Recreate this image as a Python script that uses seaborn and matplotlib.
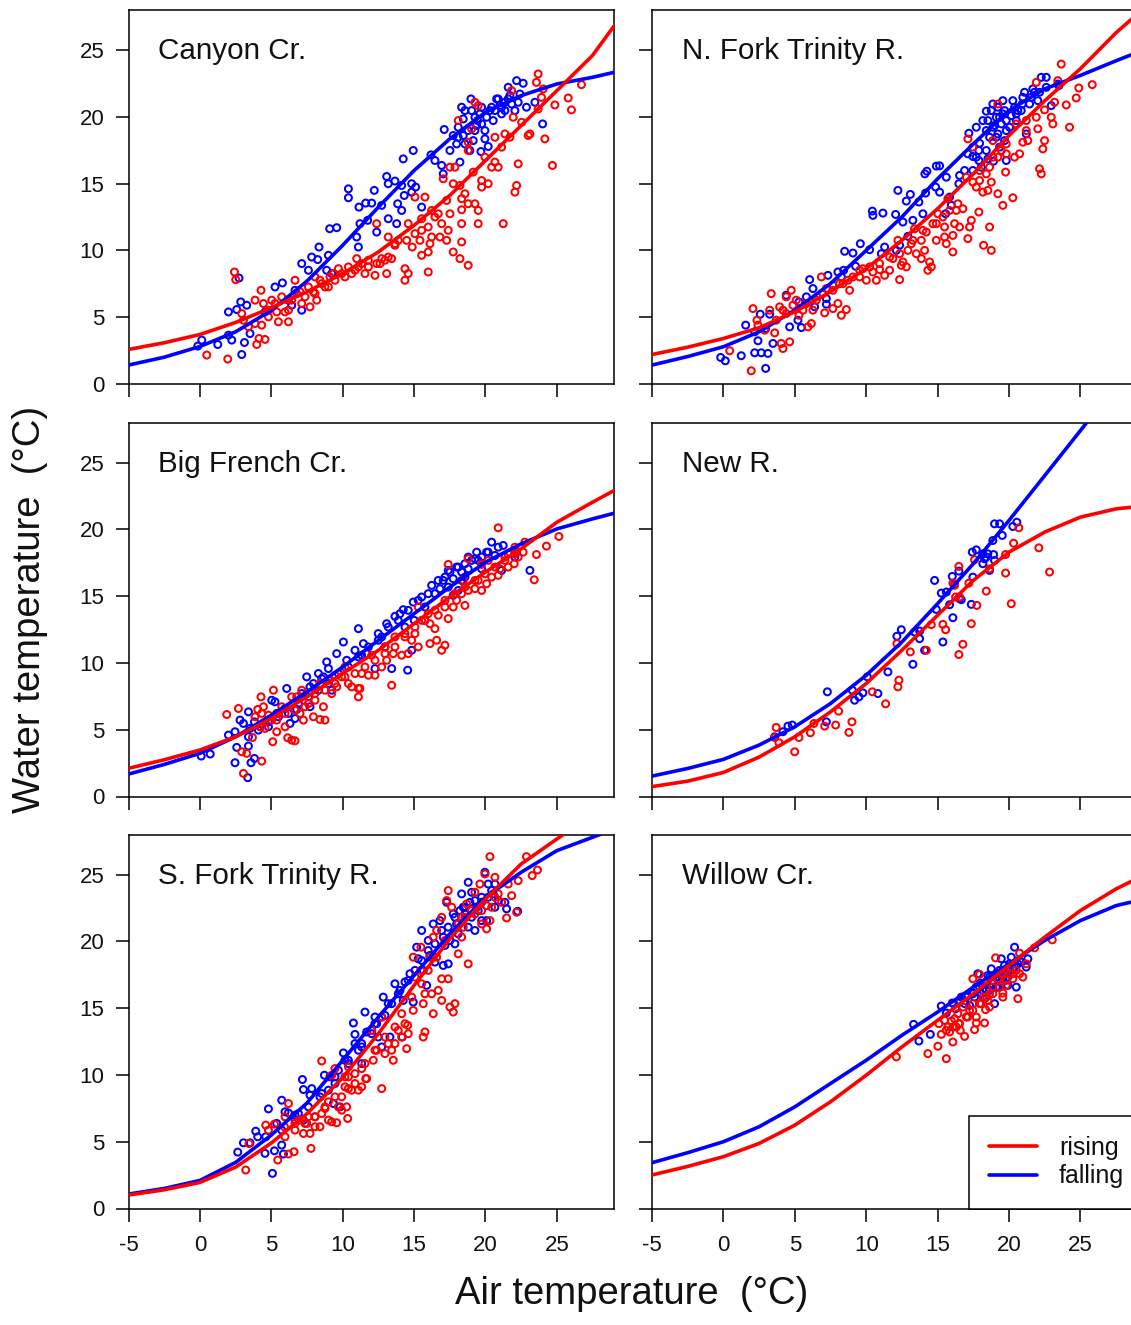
import numpy as np
import pandas as pd
import matplotlib
matplotlib.use("Agg")
import matplotlib.pyplot as plt
import seaborn as sns
from matplotlib.lines import Line2D

# ---------------- data ----------------
RED = "#FF0000"
BLUE = "#0000FF"

site_names = ["Canyon Cr.", "N. Fork Trinity R.", "Big French Cr.",
              "New R.", "S. Fork Trinity R.", "Willow Cr."]

x_ticks = [-5, 0, 5, 10, 15, 20, 25]
y_ticks = [0, 5, 10, 15, 20, 25]

# fitted curves, read at these air temperatures
curve_x = [-5, -2.5, 0, 2.5, 5, 7.5, 10, 12.5, 15, 17.5, 20, 22.5, 25, 27.5, 29]

canyon_rise_curve = [2.58, 3.08, 3.7, 4.6, 5.7, 6.9, 8.26, 9.88, 11.87, 14.11, 16.73, 19.35, 21.96, 24.6, 26.8]
canyon_fall_curve = [1.41, 2.0, 2.8, 3.9, 5.5, 7.7, 10.38, 13.24, 15.98, 18.35, 20.34, 21.59, 22.46, 22.96, 23.33]
nfork_rise_curve = [2.2, 2.75, 3.4, 4.2, 5.4, 6.9, 8.63, 10.75, 13.12, 15.73, 18.6, 21.2, 23.6, 26.3, 27.7]
nfork_fall_curve = [1.41, 2.05, 2.78, 3.9, 5.52, 7.51, 10.0, 12.5, 15.36, 17.97, 20.47, 22.09, 23.1, 24.2, 24.83]
bigfrench_rise_curve = [2.11, 2.75, 3.48, 4.47, 5.84, 7.46, 9.21, 10.95, 12.94, 14.94, 16.81, 18.55, 20.54, 22.04, 22.91]
bigfrench_fall_curve = [1.68, 2.4, 3.23, 4.47, 6.09, 7.84, 9.7, 11.7, 13.69, 15.68, 17.55, 18.92, 20.04, 20.79, 21.21]
newr_rise_curve = [0.74, 1.15, 1.8, 2.95, 4.47, 6.34, 8.46, 10.95, 13.57, 16.18, 18.3, 19.8, 20.92, 21.54, 21.71]
newr_fall_curve = [1.53, 2.1, 2.78, 3.85, 5.22, 6.96, 9.08, 11.57, 14.44, 17.43, 20.67, 24.03, 27.4, 30.8, 32.8]
sfork_rise_curve = [1.01, 1.4, 1.95, 3.1, 4.9, 7.1, 9.8, 13.09, 16.71, 20.19, 23.18, 25.8, 27.67, 29.5, 30.5]
sfork_fall_curve = [1.08, 1.5, 2.1, 3.45, 5.5, 7.9, 11.1, 14.34, 17.45, 20.57, 23.31, 25.18, 26.8, 27.8, 28.4]
willow_rise_curve = [2.51, 3.15, 3.88, 4.87, 6.24, 7.99, 9.98, 12.1, 14.09, 16.08, 18.2, 20.32, 22.31, 23.93, 24.73]
willow_fall_curve = [3.43, 4.18, 5.0, 6.12, 7.61, 9.36, 11.1, 12.97, 14.71, 16.58, 18.32, 20.07, 21.56, 22.68, 23.06]

# observations (air, water)
canyon_fall_pts = [(-0.15,2.83),(0.13,3.28),(1.25,2.95),(2.0,3.65),(2.23,3.28),(2.93,2.2),(3.12,3.1),(2.0,5.39),(2.58,5.57),(2.74,7.93),(2.86,6.14),(3.28,5.89),(3.51,3.77),(4.56,5.39),(5.26,7.26),(5.78,7.56),(6.2,6.27),(6.43,5.89),(7.13,5.52),(6.66,7.01),(7.13,9.01),(7.6,8.51),(7.83,9.5),(8.25,9.31),(8.34,10.25),(9.0,9.63),(9.09,11.62),(9.58,11.7),(9.23,8.26),(8.88,8.51),(10.4,14.61),(10.4,13.94),(11.14,13.24),(11.61,13.54),(12.03,13.54),(12.21,14.49),(11.21,12.0),(11.75,12.25),(10.98,11.0),(11.1,10.25),(12.38,11.37),(13.08,15.53),(13.19,14.99),(13.66,15.19),(14.13,14.86),(14.31,14.11),(14.83,14.99),(15.11,14.74),(14.94,17.48),(14.24,16.85),(14.83,14.36),(13.85,13.49),(12.73,13.37),(13.19,12.37),(13.78,12.0),(14.13,12.99),(15.53,13.24),(16.18,17.15),(16.46,16.73),(16.93,16.36),(17.04,15.73),(17.11,19.05),(17.74,18.6),(18.09,19.22),(18.33,20.72),(18.98,21.34),(18.44,19.84),(18.91,17.48),(19.68,17.4),(20.19,17.78),(19.03,20.47),(19.45,19.72),(19.73,20.72),(20.31,20.47),(20.78,21.34),(21.13,20.72),(21.71,21.59),(22.18,22.71),(22.64,22.51),(21.59,22.21),(22.87,20.72),(23.46,21.09),(24.0,19.47),(21.36,21.09),(20.54,19.72),(19.26,18.97),(19.96,18.35),(17.51,17.48),(17.98,17.97),(18.21,16.61),(21.13,20.22),(22.06,20.47),(18.56,17.97),
    (18.56,20.47),(19.26,19.97),(19.61,20.22),(20.08,19.97),(20.43,20.72),(20.66,20.47),(21.01,20.84),(21.36,20.47),(21.83,20.96),(22.29,21.09),(20.89,21.34),(21.59,21.34),(22.41,21.71),(19.73,19.47),(19.38,19.35),(18.79,18.97),(18.44,18.6),(18.09,18.47),(19.14,18.22),(19.96,18.97)]
canyon_rise_pts = [(0.48,2.16),(1.95,1.86),(2.42,8.38),(2.51,7.81),(2.93,5.27),(3.05,4.77),(3.4,4.27),(3.98,2.95),(4.14,3.4),(4.56,3.33),(4.28,7.01),(3.86,6.27),(4.45,6.02),(4.8,5.52),(4.33,4.4),(5.03,6.27),(5.38,5.39),(5.5,4.65),(5.96,5.39),(6.2,4.65),(6.2,6.32),(6.66,7.76),(6.78,6.76),(7.36,6.52),(7.71,5.77),(7.95,6.89),(8.18,6.27),(8.41,7.76),(8.76,7.26),(9.11,8.01),(9.46,7.76),(9.7,8.63),(10.16,8.01),(10.4,8.76),(10.63,8.26),(10.98,9.38),(11.1,8.76),(11.56,8.26),(11.8,8.76),(12.26,8.13),(12.38,9.01),(12.73,9.38),(13.08,8.26),(13.43,9.38),(13.66,10.38),(13.89,10.75),(14.36,8.63),(14.36,7.76),(14.59,8.26),(14.87,10.25),(14.48,10.75),(15.06,11.25),(15.41,10.75),(15.53,9.63),(15.99,8.38),(16.11,10.5),(16.23,11.0),(16.46,12.5),(16.81,11.0),(17.28,10.75),(17.74,9.88),(18.21,9.38),(18.33,10.63),(18.79,8.88),(12.38,12.0),(14.59,12.0),(15.06,13.99),(15.76,13.99),(16.23,12.99),(16.69,12.74),(17.51,12.74),(17.74,14.99),(18.21,14.86),(18.33,13.04),(18.56,14.24),(18.79,13.49),(19.26,13.49),(19.49,12.0),(19.14,15.86),(19.73,14.74),(20.19,14.99),(20.43,16.23),(20.66,16.61),(21.13,17.73),(21.36,18.72),(21.71,18.47),(22.06,14.36),(22.18,14.86),(21.24,12.0),(22.29,16.48),(22.99,18.6),(23.11,18.72),(24.16,18.35),(24.69,16.36),(23.69,20.59),(23.92,21.46),(24.04,22.09),(24.86,20.89),(25.79,21.41),(26.02,20.52),(26.72,22.41),(23.69,23.21),(21.83,21.96),(21.94,19.97),(22.53,19.59),(20.66,18.47),(19.49,20.84),(19.26,21.09),(17.51,16.23),(17.04,15.36),(17.86,16.23),(18.79,17.48),(19.03,19.1),(18.09,19.72),(19.96,16.98),(20.89,16.23),(19.73,15.23),(18.79,18.1),(13.19,11.0),(13.66,10.5),(12.96,9.26),(15.99,9.88),(15.53,12.37),(17.28,13.74),(18.33,13.87),(23.57,22.58),
    (5.26,6.02),(5.73,6.52),(6.43,6.27),(7.01,6.89),(7.6,7.26),(8.06,6.76),(8.53,7.51),(9.0,7.26),(9.35,8.26),(9.93,8.26),(10.86,8.51),(11.33,9.01),(11.8,9.26),(12.61,9.01),(13.19,9.5),(6.2,5.52),(4.8,5.02),(3.86,4.52),(7.13,6.02),(8.06,8.01),(15.53,11.5),(15.99,11.75),(16.93,12.0),(17.39,11.5),(18.33,12.0),(19.49,12.99)]

nfork_fall_pts = [(-0.19,1.98),(0.13,1.73),(1.25,2.11),(2.19,2.33),(2.65,2.33),(3.12,2.28),(2.96,1.16),(2.42,3.23),(1.56,4.4),(2.19,3.9),(2.58,5.22),(3.24,5.22),(2.96,4.15),(3.47,3.03),(4.4,6.64),(4.64,4.27),(5.29,6.14),(5.46,4.22),(5.22,4.77),(5.81,6.52),(6.04,7.81),(6.27,7.14),(6.39,5.77),(7.21,5.97),(7.32,8.13),(7.67,7.39),(8.02,8.38),(8.26,8.01),(8.42,8.51),(9.26,8.81),(8.49,9.93),(9.07,9.8),(9.59,10.5),(10.24,10.05),(10.43,12.94),(10.47,12.62),(11.17,12.79),(12.06,12.69),(12.22,14.49),(12.81,13.69),(13.09,14.19),(11.29,10.25),(11.06,9.75),(12.11,10.0),(12.34,10.38),(12.57,12.12),(12.92,11.05),(13.27,12.25),(13.69,13.62),(13.97,12.74),(14.16,14.29),(14.11,15.73),(14.25,15.93),(14.86,14.74),(14.91,16.31),(15.14,16.33),(15.14,14.36),(15.61,15.48),(15.56,12.74),(15.84,13.99),(15.96,13.37),(16.49,14.99),(16.54,15.61),(16.89,15.98),(17.12,17.23),(17.19,18.77),(17.47,17.03),(17.71,19.22),(17.89,17.48),(17.94,18.02),(18.17,19.72),(18.41,20.42),(18.52,16.85),(18.87,20.96),(18.92,16.68),(18.87,19.22),(19.11,19.97),(19.22,20.72),(19.46,19.47),(19.57,20.22),(19.69,18.22),(19.81,16.73),(20.04,19.22),(20.27,21.21),(20.39,20.72),(20.62,20.47),(20.93,20.96),(21.09,21.84),(21.56,21.46),(21.79,21.84),(22.26,22.96),(22.61,22.96),(22.61,22.21),(23.42,22.46),(22.96,20.84),(19.69,20.47),(20.51,19.72),(21.21,18.72),(19.34,17.73),(18.64,18.47),(19.11,18.47),(18.41,18.97),(18.06,16.23),(17.89,16.73),(21.44,20.96),(22.02,21.21),(23.49,22.33),(17.47,15.98),(7.21,6.39),
    (18.52,19.72),(18.99,19.35),(19.34,19.97),(19.81,19.72),(20.16,20.09),(20.51,20.22),(20.86,20.47),(19.81,18.97),(19.22,18.72),(18.76,20.47),(19.57,21.21),(20.97,21.46),(21.67,22.09),(22.14,21.84),(18.41,17.48),(17.71,16.98)]
nfork_rise_pts = [(0.44,2.48),(1.95,0.98),(2.07,5.64),(2.35,4.77),(2.42,4.4),(2.89,4.02),(3.24,5.52),(3.59,3.82),(3.35,6.76),(3.94,5.77),(4.05,3.03),(4.17,2.65),(4.64,3.15),(4.4,6.52),(4.75,7.01),(4.4,5.27),(4.87,5.89),(5.29,5.14),(5.57,5.52),(5.92,4.27),(6.16,4.52),(6.27,5.52),(6.86,8.01),(7.09,5.32),(7.21,7.14),(7.67,5.64),(8.02,6.02),(8.26,5.14),(8.61,5.57),(8.14,7.51),(8.72,7.76),(8.84,7.01),(9.54,8.01),(9.77,8.63),(10.01,7.76),(10.47,8.38),(10.71,7.76),(10.94,8.56),(11.29,8.13),(11.64,8.51),(11.87,9.38),(12.34,7.81),(12.46,8.88),(12.81,8.76),(12.57,9.13),(12.92,10.0),(13.16,10.5),(13.51,9.75),(13.86,9.38),(14.09,10.0),(14.32,8.51),(14.56,8.76),(14.44,9.13),(12.22,10.75),(13.39,11.62),(13.86,10.75),(14.21,11.37),(14.91,10.75),(15.02,12.74),(15.49,11.0),(15.61,10.5),(16.07,9.88),(15.49,11.75),(16.07,11.12),(16.19,12.0),(16.54,11.75),(15.84,12.99),(15.72,13.87),(16.31,12.99),(16.77,13.12),(17.12,10.88),(17.24,11.75),(17.36,12.25),(17.89,12.87),(18.22,10.38),(18.76,10.0),(18.64,11.75),(19.22,14.24),(19.57,13.37),(20.27,13.94),(17.01,15.48),(17.47,15.11),(17.71,14.74),(17.94,15.23),(18.17,14.36),(18.52,14.49),(18.76,15.11),(18.41,15.73),(18.87,16.98),(19.22,16.98),(19.46,17.48),(19.76,15.86),(19.81,17.23),(20.39,16.98),(20.74,17.23),(20.97,18.1),(21.21,18.97),(21.32,18.22),(22.02,19.1),(22.14,16.11),(22.26,15.73),(22.37,17.6),(22.49,18.22),(21.91,19.97),(22.49,20.52),(22.96,19.97),(23.07,19.47),(23.19,21.09),(24.01,20.89),(24.24,19.22),(24.71,21.41),(24.89,22.16),(25.83,22.41),(23.66,23.95),(21.91,22.58),(23.42,22.71),(18.87,18.22),(17.47,17.73),(19.81,17.97),(21.21,19.72),(17.12,18.35),(19.22,20.96),(20.51,19.47),(17.94,15.98),(18.64,16.23),(14.91,12.0),(16.42,13.49),
    (3.7,4.77),(4.17,5.52),(5.1,6.27),(5.81,6.02),(6.51,6.27),(6.97,6.76),(7.67,7.01),(8.37,7.51),(9.07,8.01),(9.54,8.51),(10.24,8.76),(10.94,9.01),(11.64,9.5),(12.34,9.75),(13.27,10.75),(13.97,11.5),(14.67,12.0),(15.37,12.5)]

bigfrench_fall_pts = [(0.09,3.03),(0.72,3.18),(2.0,4.6),(2.46,4.85),(2.58,3.68),(2.46,2.53),(3.35,1.41),(3.4,3.78),(3.58,2.53),(3.82,2.85),(2.81,5.72),(3.05,5.47),(3.4,6.34),(3.51,5.1),(3.82,5.59),(4.21,5.22),(5.03,7.21),(5.26,7.09),(5.38,6.22),(6.08,8.09),(6.31,5.47),(6.66,5.84),(6.78,6.52),(7.13,7.71),(7.48,8.96),(7.71,8.21),(7.95,8.46),(8.3,9.21),(8.53,8.83),(8.88,10.08),(9.0,9.58),(9.23,7.96),(9.58,10.7),(10.05,11.57),(10.28,10.2),(10.86,10.95),(11.45,11.45),(11.1,12.57),(12.26,9.58),(12.49,12.2),(12.73,11.95),(13.08,12.94),(13.43,9.58),(13.66,13.49),(14.01,13.69),(14.24,13.99),(14.55,9.46),(14.83,10.95),(14.94,14.56),(15.01,13.19),(15.53,14.94),(15.76,14.19),(16.23,15.81),(16.46,15.19),(16.81,15.56),(17.04,16.18),(17.39,16.93),(17.74,16.31),(17.98,17.18),(18.33,16.18),(18.56,16.43),(18.79,17.05),(19.26,17.8),(19.38,18.3),(19.73,17.05),(20.08,18.3),(20.43,19.05),(20.66,18.05),(21.24,18.8),(22.06,17.93),(22.18,18.3),(23.11,16.93),(21.13,16.93),(17.39,15.68),(17.74,15.06),(18.09,15.43),(18.33,16.81),(19.49,17.68),(18.79,17.93),(12.96,11.2),(14.36,12.69),(15.76,13.19),(11.33,10.58),(11.68,10.7),(8.65,8.96),(7.71,6.72),(5.96,6.59),(4.8,5.59),
    (16.69,16.18),(17.16,16.43),(17.51,16.81),(18.09,17.18),(18.56,17.43),(19.03,17.68),(19.73,17.93),(20.19,18.3),(20.89,18.67),(15.99,15.19),(15.29,14.69),(14.59,13.94),(13.89,13.19),(13.19,12.69),(12.49,11.7),(11.8,11.2),(11.1,10.45),(10.4,9.7),(9.7,9.21),(9.0,8.46),(8.3,7.96),(7.6,7.46),(6.9,6.96),(6.2,6.22),(5.5,5.97),(4.8,5.22),(4.1,4.97),(3.4,4.47)]
bigfrench_rise_pts = [(1.88,6.14),(2.7,6.59),(2.93,3.35),(3.05,1.73),(3.28,3.23),(3.68,4.42),(4.33,2.65),(4.05,6.52),(4.28,7.46),(4.45,6.72),(4.28,5.22),(4.56,5.1),(4.8,6.09),(5.1,4.1),(5.38,4.85),(5.5,6.22),(5.73,6.72),(6.15,4.4),(6.43,4.22),(6.66,4.17),(5.96,5.22),(6.43,7.46),(6.78,7.46),(7.01,6.22),(7.25,5.72),(7.6,6.96),(7.95,5.97),(8.41,5.77),(8.76,5.72),(8.65,6.72),(8.06,7.71),(8.41,8.46),(9.0,8.71),(9.23,7.71),(9.58,8.21),(9.93,8.96),(10.4,8.46),(10.63,8.21),(11.1,7.46),(11.21,8.09),(11.33,9.21),(11.8,9.08),(12.26,9.08),(12.73,9.7),(13.08,10.2),(13.43,8.33),(13.54,10.7),(14.13,10.58),(14.59,10.7),(14.83,11.7),(15.29,11.2),(15.06,12.69),(15.53,13.19),(16.11,12.94),(16.46,12.57),(16.11,11.45),(16.58,11.7),(16.93,10.95),(17.16,11.33),(16.69,13.57),(17.39,13.32),(17.74,14.19),(17.98,14.69),(18.56,14.31),(18.79,15.43),(18.33,15.19),(19.26,15.56),(19.73,15.43),(20.08,15.93),(20.43,16.43),(20.89,16.56),(21.01,17.05),(21.59,17.18),(22.01,17.43),(21.59,18.17),(22.06,18.67),(22.64,18.3),(22.76,19.05),(23.57,18.12),(23.41,16.23),(24.27,18.75),(25.14,19.47),(20.89,20.12),(17.39,17.38),(18.79,17.8),(19.73,17.38),(13.66,11.95),(12.96,11.2),(14.36,12.2),(12.03,10.58),(10.16,9.7),(15.29,14.19),(15.99,13.69),(17.16,14.19),(18.44,16.18),(19.49,16.18),(20.19,17.68),(21.36,17.93),(22.29,17.93),(11.1,8.09),(9.46,9.08),(7.13,7.96),(5.15,7.96),(5.38,5.72),(3.86,5.97),
    (4.33,6.22),(5.03,5.72),(5.96,6.22),(6.66,6.47),(7.36,6.72),(8.06,7.21),(8.76,7.96),(9.46,8.46),(10.16,8.96),(10.86,9.21),(11.56,9.7),(12.26,10.2),(12.96,10.7),(13.66,11.2),(14.36,11.95),(15.06,12.2),(15.76,13.19),(16.46,13.94),(17.16,14.69),(17.86,15.19),(18.56,15.68),(19.26,16.18),(19.96,16.68),(20.66,17.18),(21.36,17.68),(22.06,18.17)]

newr_fall_pts = [(3.59,4.47),(4.17,4.85),(4.52,5.27),(4.82,5.35),(7.21,5.59),(7.28,7.84),(9.03,7.96),(9.19,7.21),(9.49,7.46),(9.77,7.76),(10.08,8.96),(10.82,7.71),(11.52,9.33),(12.15,12.0),(12.46,12.49),(13.27,9.9),(13.39,12.32),(13.74,12.39),(13.74,11.82),(14.09,10.95),(14.79,16.18),(14.91,14.01),(15.26,15.23),(15.37,11.57),(15.61,15.31),(15.84,14.36),(16.03,16.48),(16.07,13.39),(16.19,15.88),(16.49,16.88),(16.54,14.81),(16.66,14.74),(17.36,14.39),(17.43,18.3),(17.47,16.43),(17.71,18.47),(18.17,18.17),(18.17,17.43),(18.41,17.93),(18.52,18.17),(18.64,16.93),(18.87,19.17),(18.92,18.12),(18.99,17.68),(18.99,20.42),(19.34,20.42),(19.53,19.55),(20.27,20.22),(20.55,20.54),(18.29,17.8)]
newr_rise_pts = [(3.59,4.42),(3.7,5.17),(3.89,4.03),(4.99,3.35),(5.29,4.42),(6.09,4.77),(6.34,5.47),(7.09,5.27),(7.86,5.35),(8.07,6.39),(8.79,4.8),(9.0,5.59),(10.43,7.84),(11.36,6.94),(12.15,11.45),(12.22,8.21),(12.29,8.71),(13.09,10.83),(14.21,10.95),(14.56,12.87),(15.37,12.89),(15.56,12.49),(16.07,15.98),(16.26,14.94),(16.49,17.23),(16.49,10.63),(16.77,11.4),(17.19,15.98),(17.36,12.94),(17.59,17.73),(17.75,14.31),(18.41,15.38),(18.64,17.05),(19.76,18.12),(19.76,16.73),(20.16,14.44),(20.32,18.97),(20.69,20.12),(22.09,18.62),(22.84,16.81),(16.19,15.81),(16.54,14.94)]

sfork_fall_pts = [(2.65,4.22),(3.05,4.92),(3.51,4.92),(3.91,5.79),(4.05,5.37),(4.56,4.13),(4.61,5.37),(5.08,2.63),(5.22,4.32),(5.38,6.37),(5.73,4.75),(5.85,4.08),(4.8,7.46),(5.73,8.11),(5.96,7.24),(6.2,7.16),(6.66,6.99),(6.9,7.11),(7.25,6.62),(7.18,9.66),(7.25,8.91),(7.71,8.49),(7.83,8.98),(8.41,8.36),(8.72,9.98),(9.0,8.86),(9.11,9.86),(9.35,7.86),(9.46,9.36),(9.7,10.35),(9.81,7.61),(10.05,11.65),(10.16,11.1),(10.4,10.85),(10.75,13.89),(10.86,13.04),(10.86,12.35),(11.1,11.85),(11.33,12.35),(11.68,13.22),(12.03,13.09),(12.26,14.34),(12.38,13.84),(12.49,12.84),(11.56,14.71),(12.84,15.83),(12.96,14.46),(13.19,15.34),(13.31,12.84),(13.66,16.83),(14.01,16.33),(14.24,15.58),(14.36,16.96),(14.71,17.58),(14.94,15.46),(14.17,12.84),(15.18,19.57),(15.29,18.7),(15.53,20.82),(15.64,17.83),(15.88,16.71),(15.99,20.07),(16.11,18.95),(16.34,21.31),(16.46,18.45),(16.81,21.56),(17.04,18.2),(17.39,18.32),(17.28,22.93),(17.51,20.07),(17.74,22.06),(17.98,21.31),(18.09,20.57),(18.33,23.56),(18.56,22.06),(18.79,24.43),(19.03,23.68),(19.26,23.06),(19.49,22.31),(19.73,21.56),(20.08,21.56),(19.96,25.18),(20.19,24.3),(20.43,23.81),(20.66,24.3),(20.66,22.56),(20.89,23.06),(21.36,22.93),(21.48,22.44),(22.25,22.26),(18.79,21.07),(19.26,20.82),(18.33,21.81),(17.86,19.82),(17.16,19.7),(18.44,22.56),(19.73,23.31),(19.03,21.81),(16.93,20.82),(11.33,10.85),(12.73,12.1),(12.26,13.84),
    (17.86,21.81),(18.21,22.31),(18.56,22.56),(18.91,22.93),(19.38,22.56),(19.73,22.93),(20.19,23.31),(20.54,23.56),(17.39,21.07),(17.04,20.32),(16.46,19.82),(15.99,19.32),(15.53,18.57),(15.06,17.83),(14.59,17.08),(13.89,16.08),(13.43,15.34),(12.73,14.34),(12.03,13.34),(11.33,12.1),(10.4,11.1),(9.46,9.86),(8.53,8.61),(7.6,7.61),(6.66,6.62),(5.73,5.87)]
sfork_rise_pts = [(3.21,2.88),(3.44,4.87),(4.61,6.24),(4.8,5.87),(5.22,6.32),(5.45,3.63),(5.92,6.12),(6.2,7.86),(5.96,6.87),(6.2,4.08),(6.59,4.25),(6.66,6.37),(6.94,6.62),(7.25,5.62),(7.48,6.37),(7.6,6.87),(7.71,5.62),(7.78,4.5),(8.06,6.12),(8.41,6.12),(8.53,7.11),(8.76,7.49),(9.0,7.99),(9.23,6.49),(9.58,6.42),(9.7,7.61),(9.93,8.36),(10.28,7.61),(10.35,6.74),(10.4,8.98),(10.63,8.86),(10.86,9.36),(11.1,8.86),(11.33,9.11),(11.61,9.73),(11.68,9.73),(8.53,11.05),(9.23,9.98),(9.46,10.48),(10.16,9.86),(10.4,10.6),(11.33,10.48),(12.14,11.1),(12.38,11.85),(12.73,8.98),(12.96,11.6),(13.19,12.35),(13.43,11.85),(13.54,11.1),(13.66,12.35),(13.89,13.34),(14.13,12.84),(14.36,13.84),(14.55,13.72),(14.48,11.97),(14.59,13.09),(14.94,14.84),(15.06,17.33),(15.48,17.83),(15.64,15.34),(15.76,16.08),(16.23,16.08),(16.34,14.59),(16.93,15.58),(17.51,15.09),(17.74,14.71),(17.86,15.34),(15.64,12.84),(15.76,13.22),(14.94,18.82),(15.48,19.57),(16.11,18.82),(16.34,20.32),(16.58,20.82),(16.93,17.2),(17.39,17.2),(16.93,21.81),(17.28,23.06),(17.63,22.56),(17.39,23.81),(18.09,19.07),(18.79,18.32),(18.33,20.32),(18.44,21.07),(18.68,22.81),(19.26,23.68),(19.61,24.3),(19.96,25.05),(20.08,20.94),(20.31,21.56),(20.43,22.56),(20.66,24.8),(20.89,23.56),(21.13,22.93),(21.48,21.76),(21.59,24.3),(21.83,23.43),(22.18,22.19),(22.29,24.55),(22.87,26.35),(23.27,24.93),(23.64,25.35),(20.31,26.35),(16.69,16.33),(18.33,21.81),(19.26,22.06),(19.73,21.31),(12.03,13.34),(12.73,14.34),(10.4,9.86),(9.93,7.36),(9.0,6.62),(8.06,6.87),
    (18.09,21.31),(18.56,21.81),(19.03,22.31),(19.73,22.31),(20.08,22.68),(20.66,23.31),(17.16,20.07),(16.58,18.82),(15.99,17.83),(15.53,16.83),(14.83,15.83),(14.13,14.59),(13.66,13.59),(12.96,12.84),(12.26,11.85),(11.56,10.85),(10.86,10.1),(10.16,9.11),(9.46,8.36),(8.76,7.61),(8.06,6.87),(7.36,6.37),(6.66,5.87),(5.96,5.37)]

willow_fall_pts = [(13.32,13.79),(13.69,12.54),(14.49,13.04),(15.26,15.16),(15.61,14.64),(16.03,15.39),(16.26,14.96),(16.66,15.83),(16.89,15.34),(17.12,15.96),(17.24,15.21),(17.47,16.13),(17.71,16.58),(17.82,17.58),(17.99,16.88),(18.17,16.33),(18.29,15.71),(18.41,16.96),(18.52,17.45),(18.76,17.95),(18.87,17.08),(18.99,15.34),(19.11,17.33),(19.22,16.58),(19.34,17.83),(19.46,18.7),(19.57,17.2),(19.69,18.2),(19.81,17.58),(19.92,16.71),(20.04,18.32),(20.16,18.82),(20.27,17.95),(20.39,19.57),(20.51,16.58),(20.62,18.32),(20.86,18.45),(21.21,18.08),(21.32,18.7),(18.64,16.33),(18.06,16.08),(17.59,15.83),(16.54,15.46),
    (17.94,16.58),(18.41,16.33),(18.87,16.83),(19.11,16.58),(19.46,16.96),(19.69,17.58),(20.04,17.83),(20.39,18.08),(20.74,18.57),(17.47,16.08),(17.01,15.83),(16.54,15.58),(18.64,17.33),(19.22,17.58),(19.92,17.33)]
willow_rise_pts = [(12.11,11.35),(14.32,11.6),(15.02,12.15),(15.09,13.84),(15.26,13.04),(15.49,14.09),(15.72,13.59),(15.84,13.22),(15.96,14.04),(16.07,12.47),(16.19,14.21),(16.31,13.59),(16.49,13.84),(16.59,13.34),(16.89,12.89),(17.12,14.34),(17.24,14.84),(17.47,17.2),(17.59,13.39),(17.71,13.89),(17.94,17.53),(18.06,15.34),(18.17,15.83),(18.29,13.89),(18.36,14.89),(18.52,15.58),(18.64,16.08),(18.87,16.58),(19.06,18.77),(19.22,17.2),(19.46,17.58),(19.57,16.13),(19.81,16.71),(20.04,17.58),(20.27,17.2),(20.51,17.83),(20.62,15.71),(20.74,19.12),(20.97,17.33),(21.21,18.32),(21.79,19.52),(23.03,20.12),(15.61,11.22),(16.77,15.09),(16.42,14.59),(17.47,15.34),
    (16.54,13.84),(17.01,14.34),(17.47,14.84),(17.94,15.34),(18.41,15.83),(18.87,16.08),(19.34,16.58),(19.81,17.08),(20.27,17.58),(20.74,17.58),(16.07,13.59),(15.61,13.34),(17.71,14.34),(18.64,15.09),(19.57,15.83)]

panels = [
    (site_names[0], canyon_rise_pts, canyon_fall_pts, canyon_rise_curve, canyon_fall_curve),
    (site_names[1], nfork_rise_pts, nfork_fall_pts, nfork_rise_curve, nfork_fall_curve),
    (site_names[2], bigfrench_rise_pts, bigfrench_fall_pts, bigfrench_rise_curve, bigfrench_fall_curve),
    (site_names[3], newr_rise_pts, newr_fall_pts, newr_rise_curve, newr_fall_curve),
    (site_names[4], sfork_rise_pts, sfork_fall_pts, sfork_rise_curve, sfork_fall_curve),
    (site_names[5], willow_rise_pts, willow_fall_pts, willow_rise_curve, willow_fall_curve),
]

# ---------------- styling ----------------
sns.set_theme(style="ticks")
plt.rcParams['font.family'] = ['Liberation Sans', 'DejaVu Sans']
plt.rcParams['axes.unicode_minus'] = False
plt.rcParams['axes.linewidth'] = 1.1
plt.rcParams['axes.edgecolor'] = 'black'

fig = plt.figure(figsize=(11.31, 13.25), dpi=100)
fig.patch.set_facecolor('white')

LEFTS = [128.5 / 1131, 652.0 / 1131]
BOTTOMS = [1 - 383.9 / 1325, 1 - 796.5 / 1325, 1 - 1208.5 / 1325]
W = 485.5 / 1131
H = 373.9 / 1325

for i, (name, rise_pts, fall_pts, rise_c, fall_c) in enumerate(panels):
    r, c = divmod(i, 2)
    ax = fig.add_axes([LEFTS[c], BOTTOMS[r], W, H])
    ax.set_facecolor('white')

    fall_df = pd.DataFrame(fall_pts, columns=["air", "water"])
    rise_df = pd.DataFrame(rise_pts, columns=["air", "water"])
    sns.scatterplot(data=fall_df, x="air", y="water", ax=ax, marker='o', s=25,
                    facecolors='none', edgecolor=BLUE, linewidth=1.45, zorder=2)
    sns.scatterplot(data=rise_df, x="air", y="water", ax=ax, marker='o', s=25,
                    facecolors='none', edgecolor=RED, linewidth=1.45, zorder=2)

    curve_df = pd.DataFrame({"air": curve_x, "fall": fall_c, "rise": rise_c})
    sns.lineplot(data=curve_df, x="air", y="fall", ax=ax, color=BLUE, lw=2.6,
                 sort=False, estimator=None, zorder=3)
    sns.lineplot(data=curve_df, x="air", y="rise", ax=ax, color=RED, lw=2.6,
                 sort=False, estimator=None, zorder=4)

    ax.set_xlim(-5, 29)
    ax.set_ylim(0, 28)
    ax.set_xticks(x_ticks)
    ax.set_yticks(y_ticks)
    ax.set_xlabel("")
    ax.set_ylabel("")
    for sp in ax.spines.values():
        sp.set_visible(True)
        sp.set_color('black')
        sp.set_linewidth(1.1)
    ax.tick_params(axis='both', direction='out', length=9.4, width=1.1,
                   color='black', labelsize=16, labelcolor='#111111')
    ax.tick_params(axis='x', pad=10)
    ax.tick_params(axis='y', pad=8)
    if c == 1:
        ax.tick_params(labelleft=False)
    if r != 2:
        ax.tick_params(labelbottom=False)

    ax.text(0.061, 0.869, name, transform=ax.transAxes, fontsize=21.3,
            ha='left', va='baseline', color='#111111')

    if i == 5:
        handles = [Line2D([0], [0], color=RED, lw=2.6),
                   Line2D([0], [0], color=BLUE, lw=2.6)]
        leg = ax.legend(handles, ["rising", "falling"], loc='lower left',
                        bbox_to_anchor=(0.653, 0.0), borderaxespad=0,
                        frameon=True, fancybox=False, framealpha=1,
                        edgecolor='black', fontsize=18, handlelength=1.9,
                        handletextpad=0.9, borderpad=0.8, labelspacing=0.2)
        leg.get_frame().set_linewidth(1.1)
        for t in leg.get_texts():
            t.set_color('#111111')

fig.text(30 / 1131, 1 - 609 / 1325, "Water temperature  (°C)", rotation=90,
         ha='center', va='center', fontsize=27.5, color='#111111')
fig.text(631.5 / 1131, 1 - 1304 / 1325, "Air temperature  (°C)",
         ha='center', va='baseline', fontsize=27.5, color='#111111')

fig.savefig("out.png", dpi=100, facecolor='white')
